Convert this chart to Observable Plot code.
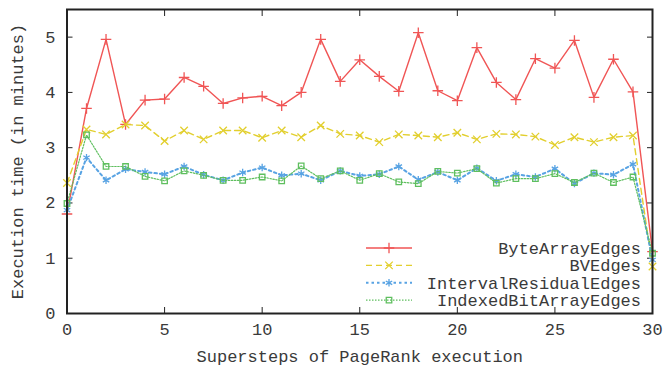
<!DOCTYPE html>
<html><head><meta charset="utf-8">
<script src="https://cdn.jsdelivr.net/npm/d3@7"></script>
<script src="https://cdn.jsdelivr.net/npm/@observablehq/plot@0.6"></script>
<style>
body{margin:0;background:#fff}
#chart{position:relative;width:668px;height:368px}
</style>
</head><body><div id="chart"></div>
<script>
const steps = [0,1,2,3,4,5,6,7,8,9,10,11,12,13,14,15,16,17,18,19,20,21,22,23,24,25,26,27,28,29,30];
const byteArrayEdges = [1.80,3.71,4.96,3.42,3.86,3.88,4.27,4.11,3.80,3.90,3.93,3.76,4.00,4.96,4.20,4.59,4.29,4.02,5.08,4.03,3.85,4.81,4.18,3.87,4.61,4.44,4.94,3.91,4.60,4.01,1.12];
const bvEdges = [2.36,3.33,3.24,3.42,3.40,3.12,3.31,3.15,3.31,3.31,3.18,3.31,3.19,3.40,3.25,3.22,3.10,3.24,3.22,3.19,3.27,3.15,3.25,3.24,3.20,3.05,3.19,3.10,3.19,3.22,0.85];
const intervalResidualEdges = [1.87,2.82,2.41,2.61,2.56,2.52,2.66,2.51,2.41,2.55,2.64,2.50,2.53,2.41,2.58,2.49,2.52,2.66,2.42,2.56,2.41,2.63,2.40,2.52,2.47,2.62,2.35,2.54,2.51,2.70,0.97];
const indexedBitArrayEdges = [1.99,3.23,2.66,2.66,2.48,2.40,2.58,2.50,2.41,2.41,2.47,2.40,2.67,2.44,2.58,2.41,2.53,2.38,2.35,2.57,2.54,2.62,2.36,2.44,2.44,2.53,2.37,2.54,2.37,2.47,1.09];

const seriesNames = ["ByteArrayEdges","BVEdges","IntervalResidualEdges","IndexedBitArrayEdges"];
const seriesValues = [byteArrayEdges, bvEdges, intervalResidualEdges, indexedBitArrayEdges];
const seriesColors = ["#f05555","#e2cf2e","#58a3e3","#5fbf5f"];
const seriesDash = [null,"6,4","2.5,3","1.5,1.5"];
const seriesWidth = [1.4,1.4,2,1.2];
const seriesSymbols = ["plus","times","asterisk","square2"];
const d3Symbols = [d3.symbolPlus, d3.symbolTimes, d3.symbolAsterisk, d3.symbolSquare2];
const xTicks = [0,5,10,15,20,25,30];
const yTicks = [0,1,2,3,4,5];
const xTitle = "Supersteps of PageRank execution";
const yTitle = "Execution time (in minutes)";

const series = seriesNames.map((name, k) => ({
  name, color: seriesColors[k], dash: seriesDash[k], width: seriesWidth[k], symbol: seriesSymbols[k],
  rows: steps.map((s, i) => ({step: s, value: seriesValues[k][i]}))
}));

const R = 3.5;
const marks = [];
for (const s of series) {
  marks.push(Plot.line(s.rows, {x: "step", y: "value", stroke: s.color, strokeWidth: s.width, strokeDasharray: s.dash}));
  marks.push(Plot.dot(s.rows, {x: "step", y: "value", stroke: s.color, symbol: s.symbol, r: R, strokeWidth: 1.3}));
}

const plot = Plot.plot({
  width: 668, height: 368,
  marginLeft: 66.5, marginRight: 16, marginTop: 9, marginBottom: 55,
  style: {fontFamily: "'Liberation Mono', 'DejaVu Sans Mono', monospace", fontSize: "17px", color: "#3a3a3a", background: "#fff"},
  x: {domain: [0, 30]},
  y: {domain: [0, 5.5]},
  marks: [
    Plot.axisX(xTicks, {anchor: "bottom", tickSize: -6, tickPadding: 15, tickFormat: d3.format("d"), label: xTitle, labelAnchor: "center", labelOffset: 48, labelArrow: "none", stroke: "#222"}),
    Plot.axisX(xTicks, {anchor: "top", tickSize: -6, tickFormat: () => "", label: null, stroke: "#222"}),
    Plot.axisY(yTicks, {anchor: "left", tickSize: -6, tickPadding: 17.5, tickFormat: d3.format("d"), label: yTitle, labelAnchor: "center", labelOffset: 56, labelArrow: "none", stroke: "#222"}),
    Plot.axisY(yTicks, {anchor: "right", tickSize: -6, tickFormat: () => "", label: null, stroke: "#222"}),
    ...marks,
    Plot.frame({stroke: "#222", strokeWidth: 2})
  ]
});
document.getElementById("chart").appendChild(plot);

// legend (gnuplot-style, inside the plot, bottom right)
const svg = d3.select(plot);
const lg = svg.append("g").attr("font-family", "'Liberation Mono', 'DejaVu Sans Mono', monospace").attr("font-size", 17).attr("fill", "#3a3a3a");
const rowH = 17.4, top0 = 248, textRight = 641, lineX1 = 366, lineX2 = 412;
series.forEach((s, k) => {
  const y = top0 + k * rowH;
  lg.append("line").attr("x1", lineX1).attr("x2", lineX2).attr("y1", y).attr("y2", y)
    .attr("stroke", s.color).attr("stroke-width", s.width).attr("stroke-dasharray", s.dash);
  lg.append("path").attr("d", d3.symbol(d3Symbols[k], R * R * Math.PI)())
    .attr("transform", `translate(${(lineX1 + lineX2) / 2},${y})`)
    .attr("fill", "none").attr("stroke", s.color).attr("stroke-width", 1.3);
  lg.append("text").attr("x", textRight).attr("y", y).attr("dy", "0.35em").attr("text-anchor", "end").text(s.name);
});
</script>
</body></html>
